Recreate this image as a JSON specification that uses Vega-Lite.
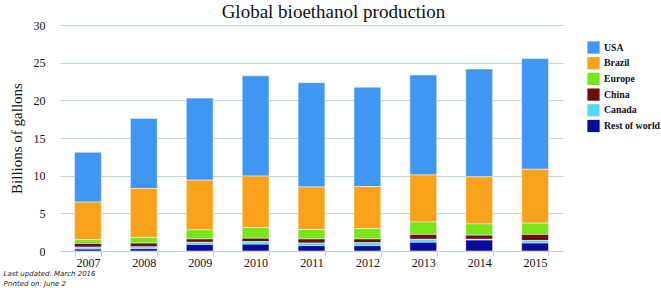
{
  "$schema": "https://vega.github.io/schema/vega-lite/v6.json",
  "width": 503,
  "height": 226,
  "autosize": {"type": "none"},
  "padding": {"left": 60, "top": 25, "right": 98, "bottom": 37},
  "background": "white",
  "title": {"text": "Global bioethanol production", "font": "Liberation Serif", "fontSize": 19, "fontWeight": "normal", "color": "#111111", "anchor": "middle", "dx": 22, "dy": 7, "offset": 4},
  "data": {"values": [
    {"year": "2007", "region": "USA", "value": 6.6},
    {"year": "2007", "region": "Brazil", "value": 5.0},
    {"year": "2007", "region": "Europe", "value": 0.5},
    {"year": "2007", "region": "China", "value": 0.5},
    {"year": "2007", "region": "Canada", "value": 0.25},
    {"year": "2007", "region": "Rest of world", "value": 0.25},
    {"year": "2008", "region": "USA", "value": 9.3},
    {"year": "2008", "region": "Brazil", "value": 6.5},
    {"year": "2008", "region": "Europe", "value": 0.75},
    {"year": "2008", "region": "China", "value": 0.5},
    {"year": "2008", "region": "Canada", "value": 0.25},
    {"year": "2008", "region": "Rest of world", "value": 0.3},
    {"year": "2009", "region": "USA", "value": 10.9},
    {"year": "2009", "region": "Brazil", "value": 6.6},
    {"year": "2009", "region": "Europe", "value": 1.2},
    {"year": "2009", "region": "China", "value": 0.45},
    {"year": "2009", "region": "Canada", "value": 0.3},
    {"year": "2009", "region": "Rest of world", "value": 0.85},
    {"year": "2010", "region": "USA", "value": 13.3},
    {"year": "2010", "region": "Brazil", "value": 6.85},
    {"year": "2010", "region": "Europe", "value": 1.4},
    {"year": "2010", "region": "China", "value": 0.45},
    {"year": "2010", "region": "Canada", "value": 0.35},
    {"year": "2010", "region": "Rest of world", "value": 0.9},
    {"year": "2011", "region": "USA", "value": 13.85},
    {"year": "2011", "region": "Brazil", "value": 5.65},
    {"year": "2011", "region": "Europe", "value": 1.25},
    {"year": "2011", "region": "China", "value": 0.55},
    {"year": "2011", "region": "Canada", "value": 0.35},
    {"year": "2011", "region": "Rest of world", "value": 0.7},
    {"year": "2012", "region": "USA", "value": 13.2},
    {"year": "2012", "region": "Brazil", "value": 5.6},
    {"year": "2012", "region": "Europe", "value": 1.35},
    {"year": "2012", "region": "China", "value": 0.5},
    {"year": "2012", "region": "Canada", "value": 0.4},
    {"year": "2012", "region": "Rest of world", "value": 0.7},
    {"year": "2013", "region": "USA", "value": 13.25},
    {"year": "2013", "region": "Brazil", "value": 6.25},
    {"year": "2013", "region": "Europe", "value": 1.65},
    {"year": "2013", "region": "China", "value": 0.65},
    {"year": "2013", "region": "Canada", "value": 0.4},
    {"year": "2013", "region": "Rest of world", "value": 1.15},
    {"year": "2014", "region": "USA", "value": 14.3},
    {"year": "2014", "region": "Brazil", "value": 6.25},
    {"year": "2014", "region": "Europe", "value": 1.5},
    {"year": "2014", "region": "China", "value": 0.55},
    {"year": "2014", "region": "Canada", "value": 0.1},
    {"year": "2014", "region": "Rest of world", "value": 1.45},
    {"year": "2015", "region": "USA", "value": 14.7},
    {"year": "2015", "region": "Brazil", "value": 7.15},
    {"year": "2015", "region": "Europe", "value": 1.5},
    {"year": "2015", "region": "China", "value": 0.8},
    {"year": "2015", "region": "Canada", "value": 0.35},
    {"year": "2015", "region": "Rest of world", "value": 1.05}
  ]},
  "transform": [
    {"calculate": "indexof(['Rest of world', 'Canada', 'China', 'Europe', 'Brazil', 'USA'], datum.region)", "as": "stackRank"}
  ],
  "mark": {"type": "bar", "stroke": "#ffffff", "strokeWidth": 0.6, "strokeOpacity": 0.8},
  "encoding": {
    "x": {
      "field": "year", "type": "nominal",
      "scale": {"paddingInner": 0.52, "paddingOuter": 0.26},
      "axis": {
        "labelAngle": 0, "labelFont": "Liberation Serif", "labelFontSize": 12, "labelColor": "#111111", "labelPadding": 1,
        "domainColor": "#b9ccd8", "tickColor": "#b9ccd8", "tickBand": "extent", "tickSize": 5, "grid": false,
        "title": ["Last updated: March 2016", "Printed on: June 2"],
        "titleFont": "DejaVu Sans", "titleFontStyle": "italic", "titleFontWeight": "normal", "titleFontSize": 7, "titleColor": "#222222",
        "titleAlign": "left", "titleAnchor": "start", "titleX": -57, "titleY": 18, "titleBaseline": "top", "titleLineHeight": 10
      }
    },
    "y": {
      "field": "value", "type": "quantitative", "stack": "zero",
      "scale": {"domain": [0, 30], "nice": false},
      "axis": {
        "values": [0, 5, 10, 15, 20, 25, 30], "domain": false, "ticks": false, "labelPadding": 15,
        "labelFont": "Liberation Serif", "labelFontSize": 12, "labelColor": "#111111",
        "gridColor": "#c3d3dc", "gridWidth": 1,
        "title": "Billions of gallons", "titleFont": "Liberation Serif", "titleFontSize": 15, "titleFontWeight": "normal", "titleColor": "#111111",
        "titleX": -44, "titleY": 113, "titleAngle": -90, "titleAlign": "center", "titleBaseline": "middle"
      }
    },
    "order": {"field": "stackRank", "type": "quantitative", "sort": "ascending"},
    "color": {
      "field": "region", "type": "nominal",
      "scale": {"domain": ["USA", "Brazil", "Europe", "China", "Canada", "Rest of world"],
                "range": ["#3f96f3", "#fba21c", "#76e61b", "#6e0e0b", "#53d9f7", "#0c0c99"]},
      "legend": {
        "title": null, "orient": "none", "legendX": 527, "legendY": 16,
        "symbolType": "square", "symbolSize": 150, "symbolStrokeWidth": 0, "symbolOpacity": 1,
        "labelFont": "Liberation Serif", "labelFontSize": 9.8, "labelFontWeight": "bold", "labelColor": "#111111", "labelLimit": 200,
        "rowPadding": 2.7, "labelOffset": 4
      }
    }
  },
  "config": {"view": {"stroke": null}, "font": "Liberation Serif"}
}
